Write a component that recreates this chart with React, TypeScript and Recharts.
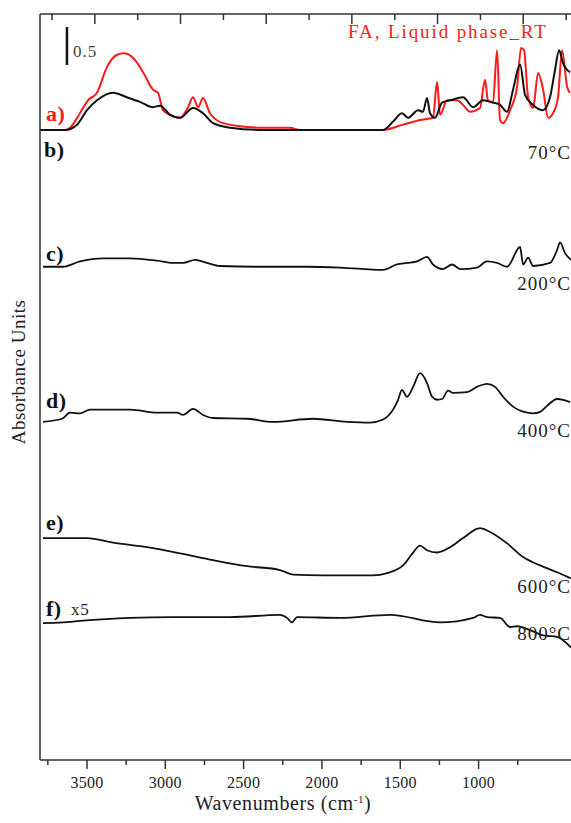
import React from 'react';
import { LineChart, Line, XAxis, YAxis, ReferenceLine } from 'recharts';

// FTIR spectra, wavenumber (cm-1) vs absorbance above each trace's own baseline

const aWn = [3800, 3640, 3608, 3545, 3494, 3436, 3372, 3308, 3264, 3206, 3142, 3078, 3047, 3015, 2970, 2906, 2855, 2823, 2791, 2759, 2715, 2632, 2478, 2376, 2204, 2140, 1610, 1482, 1374, 1291, 1265, 1246, 1201, 1137, 1099, 1054, 991, 959, 940, 908, 882, 863, 844, 799, 754, 729, 710, 684, 652, 620, 588, 556, 525, 493, 467, 435, 416];
const aAbs = [0, 0, 0.03, 0.22, 0.39, 0.49, 0.83, 0.99, 1.01, 0.95, 0.76, 0.53, 0.49, 0.26, 0.2, 0.16, 0.3, 0.43, 0.3, 0.42, 0.22, 0.09, 0.04, 0.03, 0.03, 0, 0, 0.07, 0.13, 0.16, 0.63, 0.2, 0.39, 0.39, 0.33, 0.24, 0.29, 0.66, 0.39, 0.36, 1.05, 0.13, 0.09, 0.26, 0.57, 1.08, 1.05, 0.43, 0.29, 0.75, 0.53, 0.16, 0.22, 0.43, 1.05, 0.57, 0.49];

const bWn = [3800, 3640, 3564, 3500, 3436, 3334, 3245, 3162, 3078, 3034, 2970, 2906, 2823, 2759, 2695, 2587, 2376, 1610, 1546, 1489, 1450, 1386, 1355, 1329, 1310, 1278, 1233, 1182, 1099, 1035, 971, 908, 863, 818, 780, 735, 703, 652, 588, 544, 512, 486, 461, 435, 416];
const bAbs = [0, 0, 0.07, 0.26, 0.39, 0.49, 0.43, 0.37, 0.3, 0.32, 0.2, 0.16, 0.29, 0.22, 0.09, 0.03, 0, 0, 0.11, 0.22, 0.16, 0.26, 0.24, 0.42, 0.22, 0.16, 0.36, 0.39, 0.43, 0.3, 0.39, 0.36, 0.33, 0.24, 0.53, 0.86, 0.46, 0.33, 0.26, 0.43, 0.79, 1.05, 0.88, 0.79, 0.76];

const cWn = [3781, 3653, 3545, 3398, 3225, 3053, 2951, 2887, 2810, 2734, 2651, 2376, 2095, 1885, 1610, 1521, 1457, 1393, 1329, 1291, 1227, 1169, 1118, 1010, 946, 882, 818, 735, 716, 684, 652, 544, 499, 480, 448, 410];
const cAbs = [0, 0, 0.07, 0.11, 0.11, 0.08, 0.05, 0.05, 0.09, 0.05, 0.01, 0, 0, -0.01, -0.04, 0.03, 0.05, 0.07, 0.13, 0.03, -0.03, 0.03, -0.03, -0.01, 0.07, 0.05, 0, 0.26, 0.03, 0.12, 0.01, 0.05, 0.22, 0.32, 0.18, 0.09];

const dWn = [3781, 3660, 3608, 3545, 3481, 3225, 3053, 2925, 2887, 2823, 2759, 2695, 2478, 2312, 2057, 1840, 1693, 1610, 1546, 1514, 1489, 1457, 1418, 1374, 1329, 1297, 1265, 1233, 1195, 1163, 1074, 1010, 946, 895, 844, 780, 690, 652, 607, 563, 499, 461, 416];
const dAbs = [0, 0.04, 0.12, 0.11, 0.16, 0.16, 0.12, 0.12, 0.09, 0.17, 0.09, 0.05, 0.04, 0, 0.04, 0, -0.01, 0.03, 0.16, 0.29, 0.42, 0.33, 0.46, 0.64, 0.51, 0.33, 0.29, 0.3, 0.41, 0.38, 0.39, 0.46, 0.5, 0.46, 0.33, 0.2, 0.12, 0.11, 0.13, 0.21, 0.3, 0.29, 0.26];

const eWn = [3781, 3500, 3334, 3117, 2906, 2695, 2478, 2268, 2185, 1993, 1674, 1584, 1482, 1418, 1374, 1329, 1265, 1182, 1099, 991, 927, 818, 716, 607, 499, 410];
const eAbs = [0.49, 0.49, 0.43, 0.37, 0.29, 0.2, 0.12, 0.07, 0.01, 0, 0, 0.03, 0.13, 0.3, 0.39, 0.33, 0.3, 0.37, 0.49, 0.62, 0.57, 0.42, 0.24, 0.13, 0.04, -0.04];

const fWn = [3781, 3653, 3545, 3225, 2951, 2587, 2268, 2223, 2191, 2159, 1885, 1565, 1246, 1035, 991, 946, 863, 799, 754, 671, 588, 499, 410];
const fAbs = [0, 0.01, 0.03, 0.07, 0.08, 0.08, 0.11, 0.07, 0.01, 0.08, 0.07, 0.11, 0.01, 0.07, 0.11, 0.08, 0.07, -0.05, -0.04, -0.09, -0.16, -0.18, -0.32];

// vertical stacking offsets (absorbance units)
const offsets = { a: 8.29, b: 8.29, c: 6.49, d: 4.45, e: 2.43, f: 1.8 };

const majorTicks = [3500, 3000, 2500, 2000, 1500, 1000];
const minorTicks = [3750, 3250, 2750, 2250, 1750, 1250, 750];
// inward ticks on the top frame (their own spacing, no labels)
const topLongTicks = [3450, 2903, 2356, 1809, 1262, 715];
const topShortTicks = [3723, 3176, 2629, 2082, 1535, 988, 441];

const yMax = 9.816;

const build = (wn: number[], abs: number[], off: number) =>
  wn.map((w, i) => ({ wn: w, v: abs[i] + off }));

const serif = '"Liberation Serif", "Times New Roman", serif';
const axisColor = '#333';

const BottomTick = (props: any) => {
  const { x, y, payload } = props;
  const major = majorTicks.includes(payload.value);
  return (
    <g>
      <line x1={x} x2={x} y1={y} y2={y + (major ? 9 : 5)} stroke={axisColor} strokeWidth={1.5} />
      {major && (
        <text x={x} y={y + 28} textAnchor="middle" fontSize={16} fontFamily={serif} fill="#222" letterSpacing={0.3}>
          {payload.value}
        </text>
      )}
    </g>
  );
};

export default function App() {
  const series = [
    { key: 'a', data: build(aWn, aAbs, offsets.a), color: '#ff1a1a' },
    { key: 'b', data: build(bWn, bAbs, offsets.b), color: '#111' },
    { key: 'c', data: build(cWn, cAbs, offsets.c), color: '#111' },
    { key: 'd', data: build(dWn, dAbs, offsets.d), color: '#111' },
    { key: 'e', data: build(eWn, eAbs, offsets.e), color: '#111' },
    { key: 'f', data: build(fWn, fAbs, offsets.f), color: '#111' },
  ];

  const lbl = { fontFamily: serif, fontSize: 19, fill: '#222', letterSpacing: 1 };
  const tag = { fontFamily: serif, fontSize: 22, fontWeight: 700, fill: '#111', letterSpacing: 0.5 };

  return (
    <div style={{ position: 'absolute', left: 0, top: 0, width: 571, height: 823, background: '#fff' }}>
      <LineChart width={571} height={823} margin={{ top: 14, right: 0, bottom: 0, left: 0 }}>
        <XAxis
          xAxisId="wn"
          dataKey="wn"
          type="number"
          domain={[410, 3800]}
          reversed
          allowDataOverflow
          ticks={[...majorTicks, ...minorTicks].sort((p, q) => q - p)}
          interval={0}
          height={63}
          tickSize={0}
          tickMargin={0}
          tick={<BottomTick />}
          tickLine={false}
          axisLine={{ stroke: axisColor, strokeWidth: 1.5 }}
        />
        <YAxis
          type="number"
          domain={[0, yMax]}
          allowDataOverflow
          width={40}
          tick={false}
          tickLine={false}
          axisLine={{ stroke: axisColor, strokeWidth: 1.5 }}
        />
        <ReferenceLine xAxisId="wn" y={yMax} stroke={axisColor} strokeWidth={1.5} />
        {topLongTicks.map((t) => (
          <ReferenceLine
            key={'tl' + t}
            xAxisId="wn"
            segment={[{ x: t, y: yMax }, { x: t, y: yMax - 0.13 }]}
            stroke={axisColor}
            strokeWidth={1.5}
          />
        ))}
        {topShortTicks.map((t) => (
          <ReferenceLine
            key={'ts' + t}
            xAxisId="wn"
            segment={[{ x: t, y: yMax }, { x: t, y: yMax - 0.08 }]}
            stroke={axisColor}
            strokeWidth={1.5}
          />
        ))}
        {series.map((s) => (
          <Line
            key={s.key}
            xAxisId="wn"
            data={s.data}
            dataKey="v"
            type="monotone"
            stroke={s.color}
            strokeWidth={s.key === 'a' || s.key === 'b' ? 2 : 1.8}
            dot={false}
            isAnimationActive={false}
          />
        ))}
        <ReferenceLine
          xAxisId="wn"
          segment={[{ x: 3628, y: 9.145 }, { x: 3628, y: 9.645 }]}
          stroke="#111"
          strokeWidth={2.5}
        />
      </LineChart>
      <svg
        width={571}
        height={823}
        style={{ position: 'absolute', left: 0, top: 0, pointerEvents: 'none' }}
      >
        <text x={73} y={57} fontFamily={serif} fontSize={17} fill="#444" letterSpacing={1}>0.5</text>
        <text x={348} y={38} fontFamily={serif} fontSize={19} fill="#ff2020" letterSpacing={1.9}>FA, Liquid phase_RT</text>
        <text x={46} y={121} {...tag} fill="#ff1a1a">a)</text>
        <text x={44} y={157} {...tag}>b)</text>
        <text x={46} y={261} {...tag}>c)</text>
        <text x={46} y={408} {...tag}>d)</text>
        <text x={46} y={530} {...tag}>e)</text>
        <text x={46} y={616} {...tag}>f)</text>
        <text x={71} y={615} fontFamily={serif} fontSize={17} fill="#222" letterSpacing={0.8}>x5</text>
        <text x={571} y={159} textAnchor="end" {...lbl}>70°C</text>
        <text x={571} y={290} textAnchor="end" {...lbl}>200°C</text>
        <text x={571} y={437} textAnchor="end" {...lbl}>400°C</text>
        <text x={571} y={593} textAnchor="end" {...lbl}>600°C</text>
        <text x={571} y={640} textAnchor="end" {...lbl}>800°C</text>
        <text x={283} y={810} textAnchor="middle" fontFamily={serif} fontSize={20} fill="#222" letterSpacing={0.6}>
          Wavenumbers (cm<tspan dy={-7} fontSize={11}>-1</tspan><tspan dy={7}>)</tspan>
        </text>
        <text
          x={25}
          y={372}
          textAnchor="middle"
          transform="rotate(-90 25 372)"
          fontFamily={serif}
          fontSize={19}
          fill="#222"
          letterSpacing={0.5}
        >
          Absorbance Units
        </text>
      </svg>
    </div>
  );
}
